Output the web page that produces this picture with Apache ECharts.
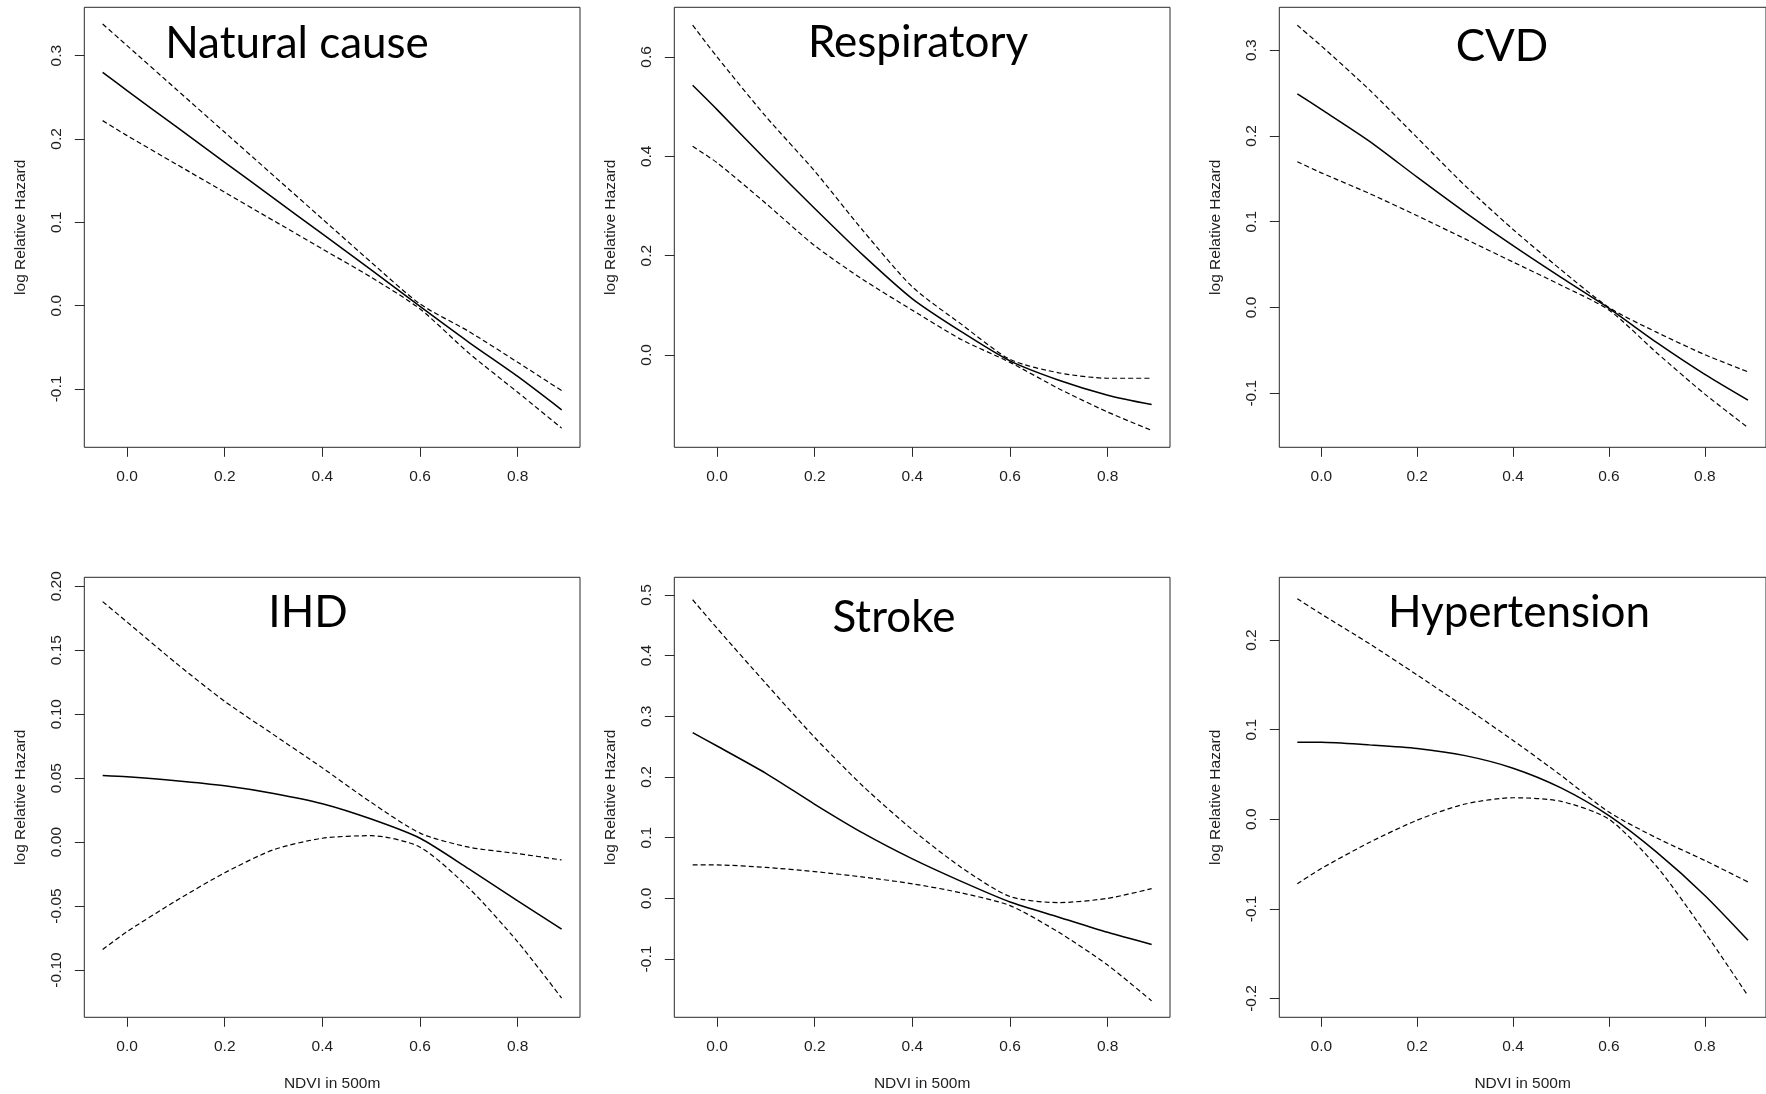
<!DOCTYPE html>
<html>
<head>
<meta charset="utf-8">
<script src="https://cdn.jsdelivr.net/npm/echarts@6.0.0/dist/echarts.min.js"></script>
<style>
html,body{margin:0;padding:0;background:#fff;}
#chart{width:1766px;height:1094px;}
</style>
</head>
<body>
<div id="chart"></div>
<script>
// ---- data ----
const ndvi = [-0.05, 0, 0.1, 0.2, 0.3, 0.4, 0.5, 0.6, 0.7, 0.8, 0.89];
const xTicks = [0, 0.2, 0.4, 0.6, 0.8];

const panelTitles = ['Natural cause', 'Respiratory', 'CVD', 'IHD', 'Stroke', 'Hypertension'];

const natEst = [0.280, 0.258, 0.215, 0.172, 0.129, 0.086, 0.043, -0.001, -0.044, -0.085, -0.125];
const natUp  = [0.338, 0.312, 0.260, 0.208, 0.156, 0.104, 0.052, 0.002, -0.031, -0.068, -0.102];
const natLo  = [0.222, 0.204, 0.170, 0.136, 0.102, 0.068, 0.034, -0.004, -0.057, -0.104, -0.147];
const natTicks = [-0.1, 0, 0.1, 0.2, 0.3];

const resEst = [0.543, 0.494, 0.393, 0.295, 0.200, 0.113, 0.047, -0.012, -0.051, -0.081, -0.100];
const resUp  = [0.664, 0.600, 0.480, 0.370, 0.249, 0.137, 0.062, -0.009, -0.036, -0.047, -0.047];
const resLo  = [0.420, 0.387, 0.305, 0.220, 0.151, 0.090, 0.031, -0.015, -0.068, -0.115, -0.152];
const resTicks = [0, 0.2, 0.4, 0.6];

const cvdEst = [0.249, 0.231, 0.194, 0.152, 0.111, 0.072, 0.035, -0.001, -0.041, -0.078, -0.108];
const cvdUp  = [0.329, 0.305, 0.254, 0.198, 0.142, 0.091, 0.044, 0.000, -0.029, -0.055, -0.075];
const cvdLo  = [0.170, 0.157, 0.133, 0.107, 0.080, 0.053, 0.026, -0.003, -0.053, -0.101, -0.140];
const cvdTicks = [-0.1, 0, 0.1, 0.2, 0.3];

const ihdEst = [0.052, 0.051, 0.048, 0.044, 0.038, 0.030, 0.018, 0.003, -0.021, -0.046, -0.068];
const ihdUp  = [0.188, 0.172, 0.140, 0.110, 0.084, 0.058, 0.031, 0.007, -0.004, -0.009, -0.014];
const ihdLo  = [-0.084, -0.070, -0.046, -0.024, -0.006, 0.003, 0.005, -0.004, -0.036, -0.078, -0.122];
const ihdTicks = [-0.10, -0.05, 0, 0.05, 0.10, 0.15, 0.20];

const strEst = [0.273, 0.251, 0.206, 0.155, 0.107, 0.065, 0.028, -0.006, -0.031, -0.056, -0.076];
const strUp  = [0.492, 0.445, 0.354, 0.265, 0.184, 0.113, 0.051, 0.003, -0.007, 0.000, 0.016];
const strLo  = [0.055, 0.055, 0.051, 0.044, 0.035, 0.024, 0.009, -0.012, -0.056, -0.110, -0.169];
const strTicks = [-0.1, 0, 0.1, 0.2, 0.3, 0.4, 0.5];

const hypEst = [0.086, 0.086, 0.083, 0.079, 0.071, 0.057, 0.035, 0.004, -0.037, -0.085, -0.135];
const hypUp  = [0.246, 0.229, 0.196, 0.161, 0.125, 0.088, 0.049, 0.008, -0.021, -0.046, -0.070];
const hypLo  = [-0.072, -0.055, -0.026, -0.001, 0.017, 0.024, 0.020, 0.000, -0.053, -0.126, -0.197];
const hypTicks = [-0.2, -0.1, 0, 0.1, 0.2];

// ---- layout / style ----
const xRange = [-0.0876, 0.9276];
const panels = [
  {est: natEst, up: natUp, lo: natLo, ticks: natTicks, yr: [-0.170, 0.358], dec: 1},
  {est: resEst, up: resUp, lo: resLo, ticks: resTicks, yr: [-0.186, 0.700], dec: 1},
  {est: cvdEst, up: cvdUp, lo: cvdLo, ticks: cvdTicks, yr: [-0.163, 0.350], dec: 1},
  {est: ihdEst, up: ihdUp, lo: ihdLo, ticks: ihdTicks, yr: [-0.137, 0.207], dec: 2},
  {est: strEst, up: strUp, lo: strLo, ticks: strTicks, yr: [-0.196, 0.529], dec: 1},
  {est: hypEst, up: hypUp, lo: hypLo, ticks: hypTicks, yr: [-0.221, 0.270], dec: 1}
];
const colLeft = [84.3, 674.3, 1279.3];
const rowTop = [7.3, 577.3];
const boxW = 495.7, boxH = 440;
const titlePos = [[297, 44], [918, 43], [1502, 47], [308, 613], [894, 618], [1519, 613]];

const axisFont = {fontFamily: 'Liberation Sans', fontSize: 15.5, color: '#1e1e1e'};

const grid = [], xAxis = [], yAxis = [], series = [], graphic = [];
panels.forEach((p, i) => {
  const r = Math.floor(i / 3), c = i % 3;
  grid.push({left: colLeft[c], top: rowTop[r], width: boxW, height: boxH,
    show: true, borderColor: '#2a2a2a', borderWidth: 1, backgroundColor: 'transparent'});
  xAxis.push({
    type: 'value', gridIndex: i, min: xRange[0], max: xRange[1], position: 'bottom',
    name: r === 1 ? 'NDVI in 500m' : '', nameLocation: 'middle', nameGap: 58,
    nameTextStyle: axisFont,
    axisLine: {show: false, onZero: false}, splitLine: {show: false},
    axisTick: {show: true, length: 9.5, inside: false, customValues: xTicks,
      lineStyle: {color: '#2a2a2a', width: 1}},
    axisLabel: {show: true, margin: 21, customValues: xTicks, ...axisFont,
      formatter: v => v.toFixed(1)}
  });
  yAxis.push({
    type: 'value', gridIndex: i, min: p.yr[0], max: p.yr[1], position: 'left',
    name: 'log Relative Hazard', nameLocation: 'middle', nameGap: 56, nameRotate: 90,
    nameTextStyle: axisFont,
    axisLine: {show: false, onZero: false}, splitLine: {show: false},
    axisTick: {show: true, length: 9.5, inside: false, customValues: p.ticks,
      lineStyle: {color: '#2a2a2a', width: 1}},
    axisLabel: {show: true, margin: 20, rotate: 90, customValues: p.ticks, ...axisFont,
      formatter: v => v.toFixed(p.dec)}
  });
  const mk = (vals, dashed, w) => ({
    type: 'line', xAxisIndex: i, yAxisIndex: i, showSymbol: false, smooth: 0.25,
    data: ndvi.map((x, k) => [x, vals[k]]),
    lineStyle: {color: '#000', width: w, type: dashed ? [5, 3] : 'solid'},
    silent: true, z: 3
  });
  series.push(mk(p.est, false, 1.5), mk(p.up, true, 1.2), mk(p.lo, true, 1.2));
  graphic.push({type: 'text', x: titlePos[i][0], y: titlePos[i][1], z: 10,
    style: {text: panelTitles[i], font: '44px Lato', fill: '#000',
      textAlign: 'center', textVerticalAlign: 'middle'}});
});

const chart = echarts.init(document.getElementById('chart'), null, {renderer: 'canvas'});
chart.setOption({animation: false, backgroundColor: '#fff', grid, xAxis, yAxis, series, graphic});
</script>
</body>
</html>
